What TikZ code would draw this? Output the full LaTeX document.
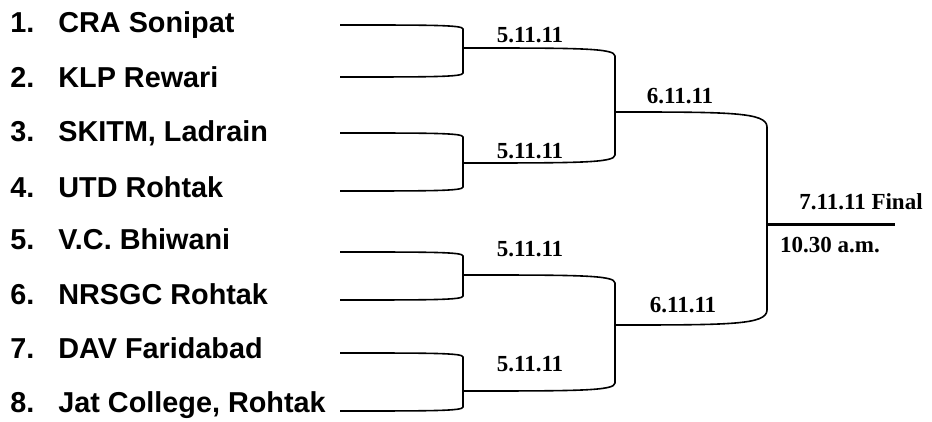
\documentclass[tikz,border=0pt]{standalone}
\usepackage{fontspec}
\setmainfont{Liberation Serif}
\setsansfont{Liberation Sans}
\usetikzlibrary{calc}

\begin{document}
\begin{tikzpicture}
    [x=.5pt, y=-.5pt,
     team/.style={anchor=base west, inner sep=0pt,
                  font=\sffamily\bfseries\fontsize{14.4}{17}\selectfont},
     date/.style={inner sep=0pt, font=\bfseries\fontsize{11.5}{13}\selectfont},
     bracket/.style={line width=.8pt},
    ]
    \useasboundingbox (0,0) rectangle (932,422);

    % Teams
    \foreach \name / \ty / \ly [count=\ti] in
             {CRA Sonipat/33/25, KLP Rewari/88/77, {SKITM, Ladrain}/142/133,
              UTD Rohtak/198/191, V.C. Bhiwani/250/252, NRSGC Rohtak/305/300,
              DAV Faridabad/358/353, {Jat College, Rohtak}/412/411} {
        \node[team] (n\ti) at (10, \ty) {\ti.};
        \node[team] (t\ti) at (58, \ty) {\name};
        \coordinate (e\ti) at (340, \ly);
    }

    % Winners of each round
    \coordinate (w1) at (463, 48);
    \coordinate (w2) at (463, 163);
    \coordinate (w3) at (463, 275);
    \coordinate (w4) at (463, 391);
    \coordinate (s1) at (615, 112);
    \coordinate (s2) at (615, 325);
    \coordinate (f) at (767, 225);
    \coordinate (g) at (895, 225);

    % Brackets
    \foreach \a / \b / \w / \c in
             {e1/e2/w1/4, e3/e4/w2/4, e5/e6/w3/4, e7/e8/w4/4,
              w1/w2/s1/8, w3/w4/s2/8, s1/s2/f/15} {
        \draw[bracket]
            (\a) .. controls ($(\a)!.75!(\a -| \w)$) and (\a -| \w) ..
            ($(\a -| \w) + (0, \c)$) -- ($(\b -| \w) - (0, \c)$)
            .. controls (\b -| \w) and ($(\b)!.75!(\b -| \w)$) .. (\b);
    }
    % Final
    \draw[line width=1.5pt] (f) -- (g);

    % Dates
    \node[date] (d1) at (530, 35) {5.11.11};
    \node[date] (d2) at (530, 151) {5.11.11};
    \node[date] (d3) at (530, 249) {5.11.11};
    \node[date] (d4) at (530, 364) {5.11.11};
    \node[date] (q1) at (680, 96) {6.11.11};
    \node[date] (q2) at (683, 305) {6.11.11};
    \node[date] (fin) at (861, 202) {7.11.11 Final};
    \node[date] (time) at (830, 245) {10.30 a.m.};
\end{tikzpicture}
\end{document}
